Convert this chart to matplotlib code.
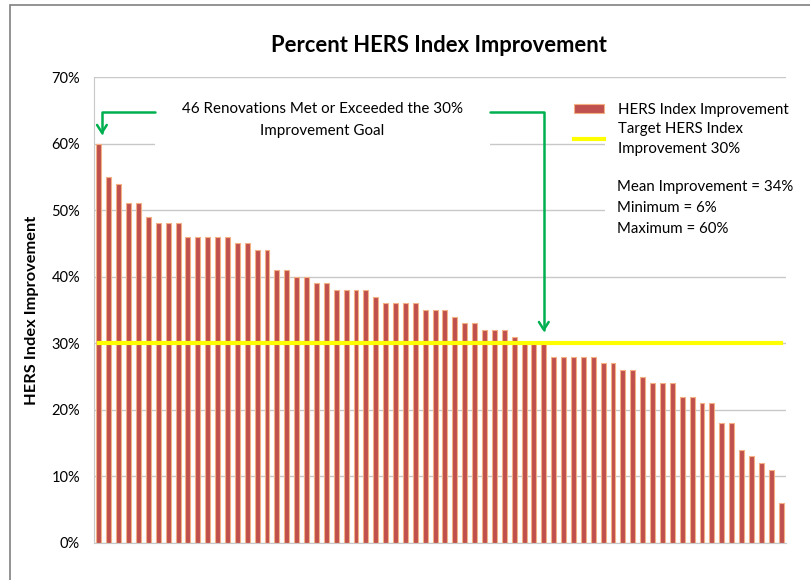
import numpy as np
import matplotlib
matplotlib.use("Agg")
import matplotlib.pyplot as plt
from matplotlib.patches import Rectangle, Patch
from matplotlib.lines import Line2D

plt.rcParams["font.family"] = ["Lato", "DejaVu Sans"]

# HERS index improvement (%) per renovation, sorted high to low
improvement = [60, 55, 54, 51, 51, 49, 48, 48, 48, 46, 46, 46, 46, 46, 45, 45,
               44, 44, 41, 41, 40, 40, 39, 39, 38, 38, 38, 38, 37, 36, 36, 36,
               36, 35, 35, 35, 34, 33, 33, 32, 32, 32, 31, 30, 30, 30,
               28, 28, 28, 28, 28, 27, 27, 26, 26, 25, 24, 24, 24, 22, 22, 21,
               21, 18, 18, 14, 13, 12, 11, 6]
target = 30
y_ticks = [0, 10, 20, 30, 40, 50, 60, 70]

n = len(improvement)
x = np.arange(n)
n_met = sum(1 for v in improvement if v >= target)
mean_val = np.mean(improvement)

bar_red = "#C0504D"
bar_edge = "#F4B183"
green = "#00B050"
grid_gray = "#C8C8C8"

fig = plt.figure(figsize=(8.1, 5.8), dpi=100)
ax = fig.add_axes([94 / 810, 37 / 580, 692 / 810, 466 / 580])

# outer chart border (partly outside the picture)
fig.patches.append(Rectangle((10 / 810, -0.1), 1.2, (575 / 580) + 0.1,
                             transform=fig.transFigure, fill=False,
                             edgecolor="#808080", lw=1.2))

ax.bar(x, improvement, width=0.5, color=bar_red, edgecolor=bar_edge,
       linewidth=0.8, zorder=2)
ax.plot(x, [target] * n, color="#FFFF00", lw=3, zorder=3)

ax.set_xlim(-0.5, n - 0.5)
ax.set_ylim(0, 70)
ax.set_yticks(y_ticks)
ax.set_yticklabels([f"{t}%" for t in y_ticks], fontsize=10.5)
ax.set_xticks([])
ax.tick_params(axis="y", length=0, pad=10)
ax.yaxis.grid(True, color=grid_gray, lw=1)
ax.set_axisbelow(True)
for s in ["top", "right"]:
    ax.spines[s].set_visible(False)
for s in ["left", "bottom"]:
    ax.spines[s].set_color(grid_gray)
ax.set_ylabel("HERS Index Improvement", fontsize=11.8, fontweight="bold",
              labelpad=9)

fig.text(439 / 810, 1 - 45 / 580, "Percent HERS Index Improvement",
         ha="center", va="center", fontsize=15.8, fontweight="bold")

# white boxes hiding the gridlines behind annotation and legend
ax.add_patch(Rectangle((0.088, 0.845), 0.484, 0.12, transform=ax.transAxes,
                       facecolor="white", edgecolor="none", zorder=1))
ax.add_patch(Rectangle((0.739, 0.65), 0.27, 0.32, transform=ax.transAxes,
                       facecolor="white", edgecolor="none", zorder=1,
                       clip_on=False))

ax.text(0.330, 0.908,
        f"{n_met} Renovations Met or Exceeded the {target}%\nImprovement Goal",
        transform=ax.transAxes, ha="center", va="center", fontsize=10.9,
        linespacing=1.75, zorder=4)

arrow = dict(arrowstyle="->,head_length=0.55,head_width=0.35", color=green,
             lw=1.8, shrinkA=0, shrinkB=0,
             connectionstyle="angle,angleA=0,angleB=90,rad=0")
ax.annotate("", xy=(0.3, improvement[0] + 1.3), xytext=(5.7, 64.7),
            arrowprops=arrow, zorder=5, annotation_clip=False)
ax.annotate("", xy=(n_met - 1, target + 1.7), xytext=(39.6, 64.7),
            arrowprops=arrow, zorder=5, annotation_clip=False)

handles = [Patch(facecolor=bar_red, edgecolor=bar_edge, lw=0.8),
           Line2D([0], [0], color="#FFFF00", lw=3)]
labels = ["HERS Index Improvement", f"Target HERS Index\nImprovement {target}%"]
leg = ax.legend(handles, labels, loc="upper left",
                bbox_to_anchor=(568 / 810, 1 - 97 / 580),
                bbox_transform=fig.transFigure, frameon=False, fontsize=10.8,
                handlelength=2.0, handleheight=0.6, labelspacing=0.3,
                handletextpad=0.9, borderaxespad=0)
for t in leg.get_texts():
    t.set_linespacing(1.55)
leg.set_zorder(6)

fig.text(617 / 810, 1 - 208 / 580,
         f"Mean Improvement = {mean_val:.0f}%\n"
         f"Minimum = {min(improvement)}%\nMaximum = {max(improvement)}%",
         ha="left", va="center", fontsize=10.8, linespacing=1.6)

fig.savefig("out.png", dpi=100)
